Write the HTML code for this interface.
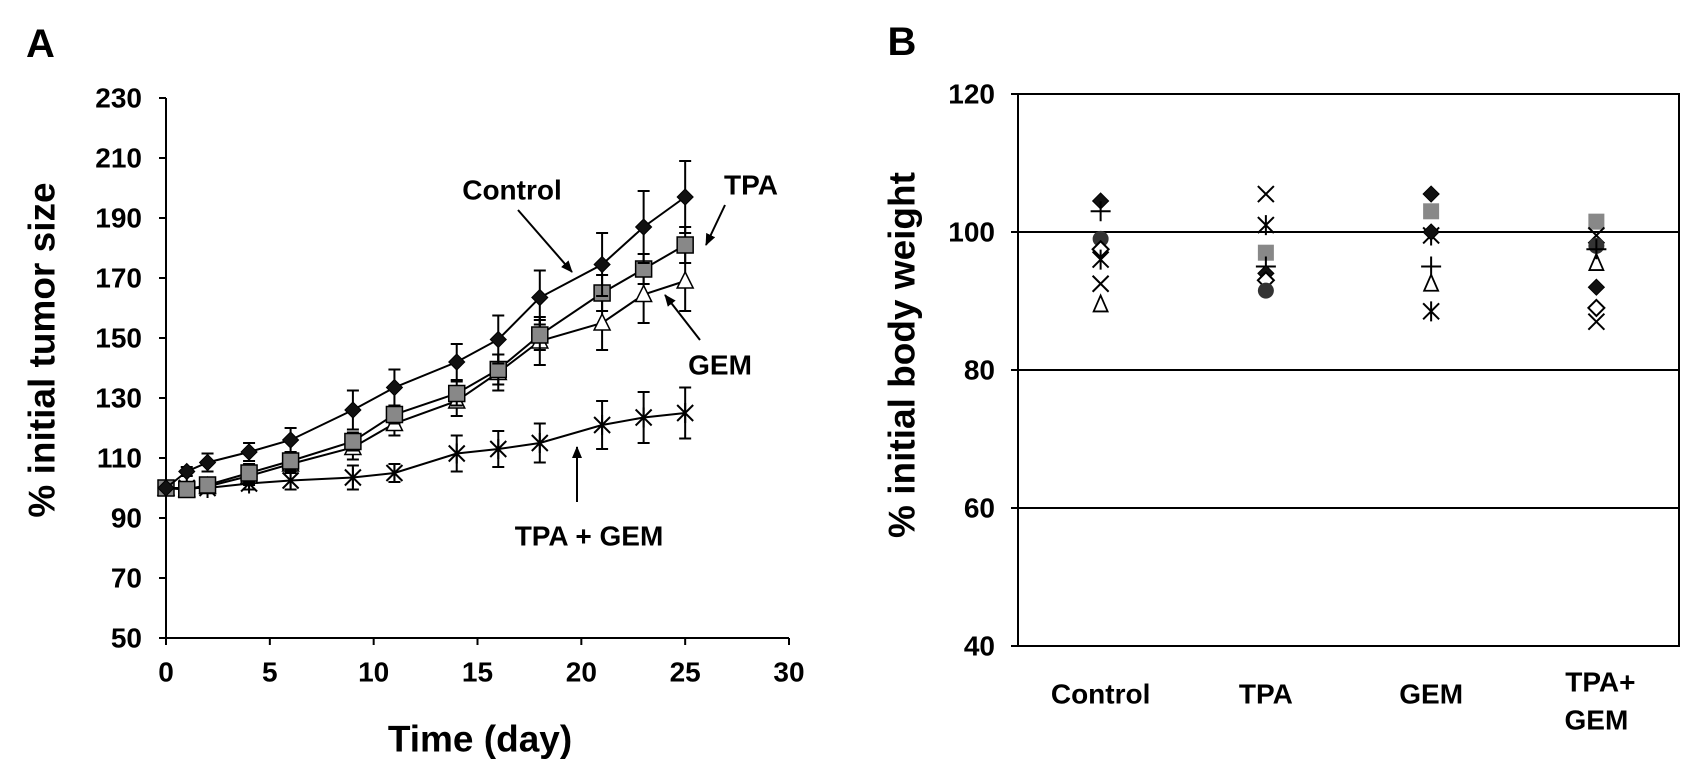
<!DOCTYPE html>
<html><head><meta charset="utf-8">
<style>
body{margin:0;background:#fff;}
svg{display:block;font-family:"Liberation Sans",Arial,sans-serif;font-weight:bold;}
</style></head>
<body>
<svg id="fig" width="1701" height="783" viewBox="0 0 1701 783"></svg>
<script>
// ---- Panel A data ----
const days = [0,1,2,4,6,9,11,14,16,18,21,23,25];
const controlVals = [100,105.5,108.5,112,116,126,133.5,142,149.5,163.5,174.5,187,197];
const controlErr  = [0,1.5,3,3,4,6.5,6,6,8,9,10.5,12,12];
const tpaVals = [100,99.5,101,105,109,115.5,124.5,131.5,139.5,151,165,173,181];
const tpaErr  = [0,1,2,3,3,3,3,4,5,5,6,5,6];
const gemVals = [100,99.5,100.5,104,108,113.5,121.5,129,138.5,149,155,164.5,169];
const gemErr  = [0,1,1.5,3,3,4,4,5,6,8,9,9.5,10];
const comboVals = [100,100,100,101.5,102.5,103.5,105,111.5,113,115,121,123.5,125];
const comboErr  = [0,1,1,2,3,4,3,6,6,6.5,8,8.5,8.5];
const xTicksA = [0,5,10,15,20,25,30];
const yTicksA = [50,70,90,110,130,150,170,190,210,230];
// ---- Panel B data ----
const groups = ["Control","TPA","GEM","TPA+GEM"];
const yTicksB = [40,60,80,100,120];
const bControl = [["fdiamond",104.5],["plus",103],["circle",99],["odiamond",97.5],["star",96],["x",92.5],["tri",89.5]];
const bTPA = [["x",105.5],["star",101],["gsquare",97],["plus",95],["fdiamond",94],["odiamond",93],["circle",91.5]];
const bGEM = [["fdiamond",105.5],["gsquare",103],["star",99.5],["fdiamond",100],["plus",95],["tri",92.5],["star",88.5]];
const bCombo = [["gsquare",101.5],["x",99.5],["circle",98],["plus",97.5],["tri",95.5],["fdiamond",92],["odiamond",89],["x",87]];

const NS="http://www.w3.org/2000/svg";
const svg=document.getElementById('fig');
function mk(tag,attrs,parent){const e=document.createElementNS(NS,tag);for(const k in attrs)e.setAttribute(k,attrs[k]);(parent||svg).appendChild(e);return e;}
function txt(s,x,y,size,anchor,parent){const t=mk('text',{x:x,y:y,'font-size':size,'text-anchor':anchor||'middle','dominant-baseline':'central',fill:'#000'},parent);t.textContent=s;return t;}

// Panel A scales
const ax=d=>166+d*(789-166)/30;
const ay=v=>638-(v-50)*(638-98)/180;
const gA=mk('g',{});


let l=txt('A',26,44,40,'start',gA);


mk('line',{x1:166,y1:98,x2:166,y2:638,stroke:'#000','stroke-width':2},gA);
mk('line',{x1:166,y1:638,x2:789,y2:638,stroke:'#000','stroke-width':2},gA);
yTicksA.forEach(v=>{mk('line',{x1:159,y1:ay(v),x2:166,y2:ay(v),stroke:'#000','stroke-width':2},gA);
 const t=txt(String(v),142,ay(v),28,'end',gA);
 
 });
xTicksA.forEach(v=>{mk('line',{x1:ax(v),y1:638,x2:ax(v),y2:645,stroke:'#000','stroke-width':2},gA);
 const t=txt(String(v),ax(v),672,28,'middle',gA);
 
 });
let xt=txt('Time (day)',480,739,37,'middle',gA);


let yt=txt('% initial tumor size',0,0,37,'middle',gA);
yt.setAttribute('transform','translate(42,350) rotate(-90)');



function marker(type,x,y,parent){
 const s=8;
 if(type==='fdiamond') return mk('polygon',{points:`${x},${y-s} ${x+s},${y} ${x},${y+s} ${x-s},${y}`,fill:'#111',stroke:'#000','stroke-width':1},parent);
 if(type==='odiamond') return mk('polygon',{points:`${x},${y-s} ${x+s},${y} ${x},${y+s} ${x-s},${y}`,fill:'#fff',stroke:'#000','stroke-width':2},parent);
 if(type==='square') return mk('rect',{x:x-8,y:y-8,width:16,height:16,fill:'#888',stroke:'#000','stroke-width':1.5},parent);
 if(type==='gsquare') return mk('rect',{x:x-8,y:y-8,width:16,height:16,fill:'#888'},parent);
 if(type==='otri') return mk('polygon',{points:`${x},${y-9} ${x+8},${y+7} ${x-8},${y+7}`,fill:'#fff',stroke:'#000','stroke-width':1.5},parent);
 if(type==='tri') return mk('polygon',{points:`${x},${y-9} ${x+7},${y+7} ${x-7},${y+7}`,fill:'none',stroke:'#000','stroke-width':1.8},parent);
 if(type==='circle') return mk('circle',{cx:x,cy:y,r:8,fill:'#333'},parent);
 if(type==='plus') return mk('path',{d:`M${x-10} ${y}H${x+10}M${x} ${y-10}V${y+10}`,stroke:'#000','stroke-width':2,fill:'none'},parent);
 if(type==='x') return mk('path',{d:`M${x-8} ${y-8}L${x+8} ${y+8}M${x+8} ${y-8}L${x-8} ${y+8}`,stroke:'#000','stroke-width':2,fill:'none'},parent);
 if(type==='star') return mk('path',{d:`M${x-8} ${y-8}L${x+8} ${y+8}M${x+8} ${y-8}L${x-8} ${y+8}M${x} ${y-10}V${y+10}`,stroke:'#000','stroke-width':2,fill:'none'},parent);
}
function series(name,vals,errs,type){
 const g=mk('g',{},gA);
 
 
 mk('polyline',{points:days.map((d,i)=>ax(d)+','+ay(vals[i])).join(' '),fill:'none',stroke:'#000','stroke-width':2},g);
 days.forEach((d,i)=>{if(errs[i]>0){const x=ax(d),y1=ay(vals[i]+errs[i]),y2=ay(vals[i]-errs[i]);
  mk('path',{d:`M${x} ${y1}V${y2}M${x-6} ${y1}H${x+6}M${x-6} ${y2}H${x+6}`,stroke:'#000','stroke-width':2,fill:'none'},g);}});
 days.forEach((d,i)=>{const m=marker(type,ax(d),ay(vals[i]),g);
  
  });
}
series('tpa-gem',comboVals,comboErr,'star');
series('gem',gemVals,gemErr,'otri');
series('tpa',tpaVals,tpaErr,'square');
series('control',controlVals,controlErr,'fdiamond');

mk('defs',{}).innerHTML='<marker id="ah" markerWidth="12" markerHeight="10" refX="11" refY="5" orient="auto" markerUnits="userSpaceOnUse"><path d="M0,0 L12,5 L0,10 z" fill="#000"/></marker>';
function ann(label,tx,ty,x1,y1,x2,y2,nm){
 const t=txt(label,tx,ty,28,'middle',gA);
 
 
 const a=mk('line',{x1:x1,y1:y1,x2:x2,y2:y2,stroke:'#000','stroke-width':2,'marker-end':'url(#ah)'},gA);
 
 
}
ann('Control',512,190,518,210,572,272,'control');
ann('TPA',751,185,725,205,706,245,'tpa');
ann('GEM',720,365,700,340,665,295,'gem');
ann('TPA + GEM',589,536,577,502,577,447,'tpa-gem');

// Panel B
const bx0=1018,bx1=1679;
const by=v=>646-(v-40)*(646-94)/80;
const bcx=i=>bx0+(i+0.5)*(bx1-bx0)/groups.length;
const gB=mk('g',{});


let lb=txt('B',902,42,40,'middle',gB);


mk('rect',{x:bx0,y:by(120),width:bx1-bx0,height:by(40)-by(120),fill:'none',stroke:'#000','stroke-width':2},gB);
yTicksB.forEach(v=>{
 const gl=mk('line',{x1:bx0-7,y1:by(v),x2:bx1,y2:by(v),stroke:'#000','stroke-width':2},gB);
 
 
 const t=txt(String(v),995,by(v),28,'end',gB);
 
 });
groups.forEach((g,i)=>{
 if(g==='TPA+GEM'){const t1=txt('TPA+',bcx(i)+4,682,28,'middle',gB);
  const t2=txt('GEM',bcx(i),720,28,'middle',gB);}
 else{const t=txt(g,bcx(i),694,28,'middle',gB);}
});
let ytb=txt('% initial body weight',0,0,37,'middle',gB);
ytb.setAttribute('transform','translate(902,355) rotate(-90)');


[bControl,bTPA,bGEM,bCombo].forEach((arr,i)=>{
 arr.forEach(([type,v])=>{const m=marker(type,bcx(i),by(v),gB);
  
  });
});
</script>
</body></html>
